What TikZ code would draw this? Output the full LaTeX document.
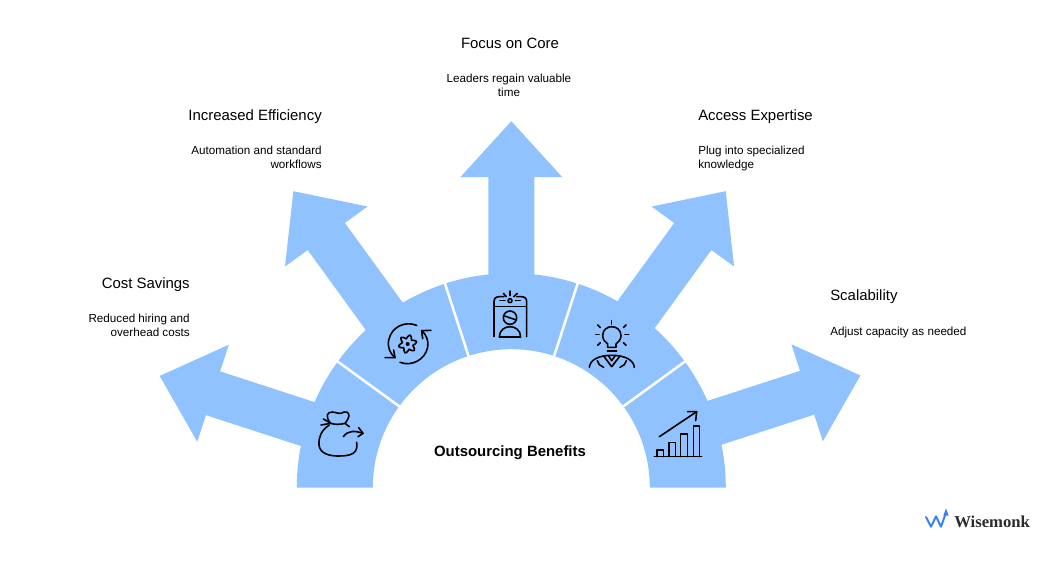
\documentclass[tikz,border=0pt]{standalone}
\usepackage{fontspec}
\setmainfont{Liberation Sans}
\newfontfamily\logofont{Liberation Serif}
\definecolor{fan}{HTML}{90C2FF}
\definecolor{logoblue}{HTML}{3B82F6}
\definecolor{logotext}{HTML}{2B2B2B}
\tikzset{
  sector/.style={fill=fan,draw=none},
  arrowshape/.style={fill=fan,draw=none},
  divider/.style={draw=white,line width=1.9pt},
  icon/.style={draw=black,line width=1.2pt,line cap=round,line join=round,fill=none},
  title/.style={inner sep=0pt,font=\fontsize{11.2pt}{13pt}\selectfont},
  body/.style={inner sep=0pt,font=\fontsize{8.75pt}{10.5pt}\selectfont}
}
\begin{document}
\begin{tikzpicture}[x=0.75pt,y=-0.75pt]
\useasboundingbox (0,0) rectangle (1064,562);
\fill[white] (0,0) rectangle (1064,562);
% fan
\begin{scope}[shift={(511.3,487.7)},yscale=-1]
  \fill[sector] (0:214.5) arc[start angle=0,end angle=180,radius=214.5] -- (180:138.5) arc[start angle=180,end angle=0,radius=138.5] -- cycle;
  \foreach \a/\dx/\dy in {72/0.5/-1,36/-1/0,0/0/0,-36/-2.5/0,-72/-3/-1.5}{
    \begin{scope}[shift={(\dx,\dy)},rotate=\a]
      \fill[arrowshape] (-23,190) -- (-23,310.5) -- (-51,310.5) -- (0,366.5) -- (51,310.5) -- (23,310.5) -- (23,190) -- cycle;
    \end{scope}
  }
  \foreach \a in {36,72,108,144}{
    \draw[divider] (\a:137) -- (\a:216);
  }
\end{scope}
% bag icon
\begin{scope}[shift={(290,270)},x=0.25pt,y=-0.25pt]
  \draw[icon] (122,460) .. controls (105,440) and (110,425) .. (128,426) .. controls (140,427) and (150,435) .. (162,426) .. controls (180,422) and (182,440) .. (165,460) .. controls (150,464) and (135,464) .. (122,460) -- cycle;
  \draw[icon] (93,465) -- (122,460);
  \draw[icon] (100,447) -- (118,457);
  \draw[icon] (165,460) -- (178,470);
  \draw[icon] (118,465) .. controls (95,480) and (85,500) .. (87,525) .. controls (90,552) and (120,558) .. (145,558) .. controls (185,558) and (205,550) .. (200,517);
  \draw[icon] (160,500) .. controls (175,480) and (195,482) .. (219,490);
  \draw[icon] (206,473) -- (219,490) -- (204,500);
\end{scope}
% cycle gear icon
\begin{scope}[shift={(290,270)},x=0.25pt,y=-0.25pt]
  \draw[icon] (380,166) .. controls (345,152) and (305,170) .. (296,210) .. controls (292,232) and (300,250) .. (315,263);
  \draw[icon] (285,263) -- (315,263) -- (311,240);
  \draw[icon] (330,277) .. controls (365,290) and (405,270) .. (413,232) .. controls (416,212) and (410,195) .. (395,182);
  \draw[icon] (423,181) -- (395,182) -- (398,206);
  \draw[icon,smooth cycle] plot[domain=0:345,samples=24] ({353+(22+6*cos(6*\x+90))*cos(\x)},{222+(22+6*cos(6*\x+90))*sin(\x)});
  \fill (353,222) circle[radius=6];
\end{scope}
% badge icon
\begin{scope}[shift={(290,270)},x=0.25pt,y=-0.25pt]
  \draw[icon] (612,200) -- (612,95) .. controls (612,85) and (618,80) .. (628,80) -- (642,80);
  \draw[icon] (710,200) -- (710,95) .. controls (710,85) and (704,80) .. (694,80) -- (680,80);
  \draw[icon] (612,110) -- (710,110);
  \draw[icon] (660,92) circle[radius=6];
  \draw[icon] (630,92) -- (645,92);
  \draw[icon] (676,92) -- (691,92);
  \draw[icon] (660,63) -- (660,77);
  \draw[icon] (640,70) -- (649,80);
  \draw[icon] (682,70) -- (671,80);
  \draw[icon] (660,143) circle[radius=20];
  \draw[icon] (641,137) -- (679,150);
  \draw[icon] (628,201) .. controls (628,180) and (645,170) .. (660,170) .. controls (675,170) and (692,180) .. (692,201) -- cycle;
\end{scope}
% bulb icon
\begin{scope}[shift={(510,270)},x=0.25pt,y=-0.25pt]
  \draw[icon] (293,232) -- (293,222) .. controls (285,216) and (278,208) .. (278,197) .. controls (278,180) and (291,170) .. (305,170) .. controls (320,170) and (333,180) .. (333,197) .. controls (333,208) and (326,216) .. (318,222) -- (318,232) -- cycle;
  \draw[icon] (292,243) -- (320,243);
  \draw[icon] (305,152) -- (305,162);
  \draw[icon] (263,165) -- (271,173);
  \draw[icon] (348,165) -- (340,173);
  \draw[icon] (257,194) -- (267,194);
  \draw[icon] (345,194) -- (356,194);
  \draw[icon] (263,226) -- (271,218);
  \draw[icon] (348,226) -- (340,218);
  \draw[icon] (238,292) .. controls (240,270) and (265,256) .. (305,256) .. controls (345,256) and (371,270) .. (373,292);
  \draw[icon] (281,258) -- (305,290) -- (330,258);
  \draw[icon] (296,258) -- (305,272) -- (315,258);
  \draw[icon] (262,272) -- (268,284) -- (281,292);
  \draw[icon] (349,272) -- (343,284) -- (330,292);
\end{scope}
% chart icon
\begin{scope}[shift={(510,270)},x=0.25pt,y=-0.25pt]
  \draw[icon] (433,560) -- (575,560);
  \draw[icon] (441,560) -- (441,540) -- (460,540) -- (460,560);
  \draw[icon] (477,560) -- (477,517) -- (497,517) -- (497,560);
  \draw[icon] (512,560) -- (512,492) -- (532,492) -- (532,560);
  \draw[icon] (550,560) -- (550,468) -- (568,468) -- (568,560);
  \draw[icon] (448,500) -- (560,425);
  \draw[icon] (533,425) -- (560,425) -- (557,452);
\end{scope}
% texts
\node[title,anchor=base east] (t1) at (190,288) {Cost Savings};
\node[body,anchor=north east,align=right] (b1) at (190,313.5) {Reduced hiring and\\overhead costs};
\node[title,anchor=base east] (t2) at (322,120) {Increased Efficiency};
\node[body,anchor=north east,align=right] (b2) at (322,145.5) {Automation and standard\\workflows};
\node[title,anchor=base] (t3) at (510,48) {Focus on Core};
\node[body,anchor=north,align=center] (b3) at (509,73.5) {Leaders regain valuable\\time};
\node[title,anchor=base west] (t4) at (698,120) {Access Expertise};
\node[body,anchor=north west,align=left] (b4) at (698,145.5) {Plug into specialized\\knowledge};
\node[title,anchor=base west] (t5) at (830,300) {Scalability};
\node[body,anchor=north west,align=left] (b5) at (830,326.5) {Adjust capacity as needed};
\node[inner sep=0pt,anchor=base,font=\fontsize{11.2pt}{13pt}\selectfont\bfseries] (c) at (510,456) {Outsourcing Benefits};
% logo
\begin{scope}[shift={(910,495)},x=0.25pt,y=-0.25pt]
  \draw[draw=logoblue,line width=1.5pt,line join=round,line cap=round] (48,66) -- (63,95) -- (78,64) -- (93,95) -- (107,56);
  \fill[logoblue] (108,40) -- (116,62) -- (100,62) -- cycle;
\end{scope}
\node[inner sep=0pt,anchor=base west,text=logotext,font=\logofont\fontsize{12.5pt}{13pt}\selectfont\bfseries] (logo) at (954,527) {Wisemonk};
\end{tikzpicture}
\end{document}
